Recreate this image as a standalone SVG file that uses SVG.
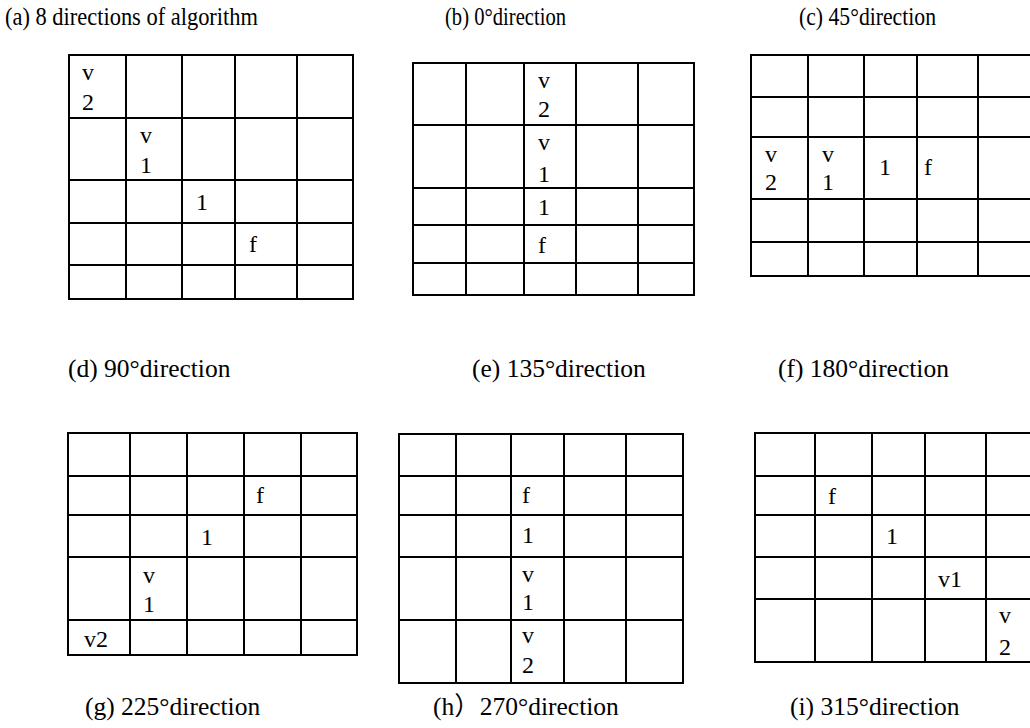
<svg xmlns="http://www.w3.org/2000/svg" width="1030" height="728" viewBox="0 0 1030 728">
<style>
  .g { fill: none; stroke: #000; stroke-width: 2; }
  .t { font-family: "Liberation Serif", "Noto Sans CJK SC", serif; font-size: 24px; fill: #000; }
  .l1 { font-family: "Liberation Serif", "Noto Sans CJK SC", serif; font-size: 25px; fill: #000; }
  .l2 { font-family: "Liberation Serif", "Noto Sans CJK SC", serif; font-size: 25.5px; fill: #000; }
</style>
<rect width="1030" height="728" fill="#fff"/>

<g id="labels">
  <text class="l1" x="5" y="25" textLength="253" lengthAdjust="spacingAndGlyphs">(a) 8 directions of algorithm</text>
  <text class="l1" x="445" y="25" textLength="121" lengthAdjust="spacingAndGlyphs">(b) 0°direction</text>
  <text class="l1" x="799" y="25" textLength="137" lengthAdjust="spacingAndGlyphs">(c) 45°direction</text>
  <text class="l2" x="68" y="377">(d) 90°direction</text>
  <text class="l2" x="472" y="377">(e) 135°direction</text>
  <text class="l2" x="778" y="377">(f) 180°direction</text>
  <text class="l2" x="85" y="715">(g) 225°direction</text>
  <text class="l2" x="433" y="715">(h）270°direction</text>
  <text class="l2" x="790" y="715">(i) 315°direction</text>
</g>

<g id="grid-a">
  <rect class="g" x="69" y="55" width="284" height="244"/>
  <path class="g" d="M126 55V299M182 55V299M235 55V299M297 55V299M69 118H353M69 180H353M69 223H353M69 265H353"/>
  <text class="t" x="82" y="80">v</text>
  <text class="t" x="82" y="110">2</text>
  <text class="t" x="140" y="143">v</text>
  <text class="t" x="140" y="173">1</text>
  <text class="t" x="196" y="210">1</text>
  <text class="t" x="249" y="252">f</text>
</g>

<g id="grid-b">
  <rect class="g" x="413" y="63" width="281" height="232"/>
  <path class="g" d="M466 63V295M524 63V295M576 63V295M638 63V295M413 125H694M413 188H694M413 225H694M413 263H694"/>
  <text class="t" x="538" y="88">v</text>
  <text class="t" x="538" y="117">2</text>
  <text class="t" x="538" y="150">v</text>
  <text class="t" x="538" y="182">1</text>
  <text class="t" x="538" y="215">1</text>
  <text class="t" x="538" y="253">f</text>
</g>

<g id="grid-c">
  <rect class="g" x="751" y="55" width="284" height="221"/>
  <path class="g" d="M808 55V276M864 55V276M917 55V276M978 55V276M751 97H1035M751 137H1035M751 199H1035M751 242H1035"/>
  <text class="t" x="765" y="162">v</text>
  <text class="t" x="765" y="190">2</text>
  <text class="t" x="822" y="162">v</text>
  <text class="t" x="822" y="190">1</text>
  <text class="t" x="879" y="175">1</text>
  <text class="t" x="924" y="175">f</text>
</g>

<g id="grid-d">
  <rect class="g" x="68" y="433" width="289" height="222"/>
  <path class="g" d="M130 433V655M187 433V655M244 433V655M301 433V655M68 476H357M68 515H357M68 557H357M68 620H357"/>
  <text class="t" x="256" y="503">f</text>
  <text class="t" x="201" y="545">1</text>
  <text class="t" x="143" y="583">v</text>
  <text class="t" x="143" y="612">1</text>
  <text class="t" x="84" y="647">v2</text>
</g>

<g id="grid-e">
  <rect class="g" x="399" y="434" width="284" height="249"/>
  <path class="g" d="M456 434V683M511 434V683M564 434V683M626 434V683M399 476H683M399 515H683M399 557H683M399 620H683"/>
  <text class="t" x="522" y="503">f</text>
  <text class="t" x="522" y="543">1</text>
  <text class="t" x="522" y="582">v</text>
  <text class="t" x="522" y="610">1</text>
  <text class="t" x="522" y="643">v</text>
  <text class="t" x="522" y="673">2</text>
</g>

<g id="grid-f">
  <rect class="g" x="755" y="433" width="285" height="229"/>
  <path class="g" d="M815 433V662M872 433V662M925 433V662M986 433V662M755 476H1040M755 515H1040M755 557H1040M755 599H1040"/>
  <text class="t" x="828" y="504">f</text>
  <text class="t" x="886" y="544">1</text>
  <text class="t" x="938" y="587">v1</text>
  <text class="t" x="999" y="623">v</text>
  <text class="t" x="999" y="655">2</text>
</g>
</svg>
